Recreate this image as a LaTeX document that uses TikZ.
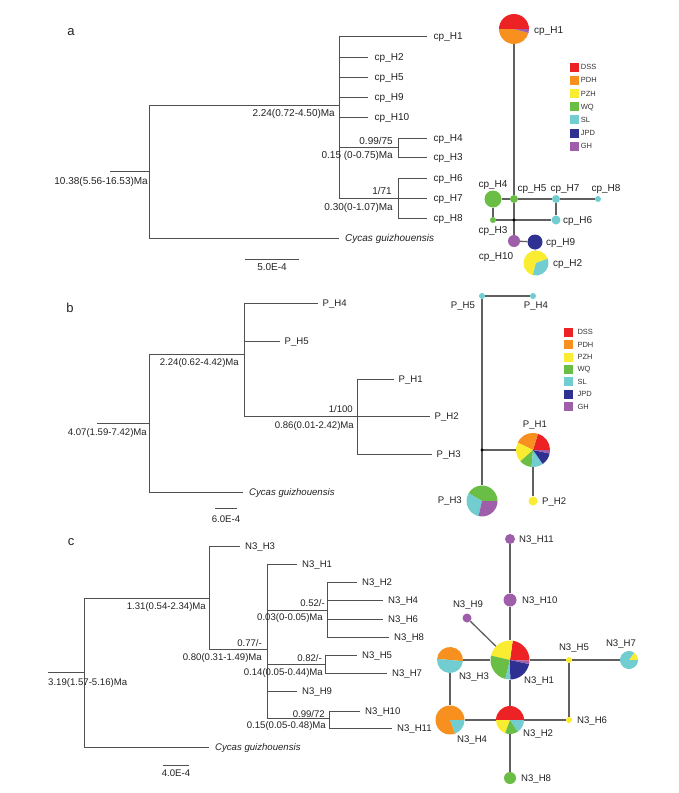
\documentclass[tikz,border=0pt]{standalone}
\usepackage{fontspec}
\setmainfont{Liberation Sans}
\definecolor{dss}{HTML}{ED2224}
\definecolor{pdh}{HTML}{F7901E}
\definecolor{pzh}{HTML}{F9EC31}
\definecolor{wq}{HTML}{6ABD45}
\definecolor{sl}{HTML}{72CDD0}
\definecolor{jpd}{HTML}{2E3192}
\definecolor{gh}{HTML}{9E5EAA}
\definecolor{treeline}{HTML}{505050}
\definecolor{netline}{HTML}{606060}
\definecolor{txt}{HTML}{222222}
\newcommand\sizeA{\fontsize{10}{12}\selectfont}
\newcommand\sizeB{\fontsize{9.6}{11.5}\selectfont}
\newcommand\sizeL{\fontsize{7.5}{9}\selectfont}
\newcommand\sizeP{\fontsize{13}{15}\selectfont}
\newcommand\pieat[3]{\foreach \s/\e/\c in {#3}{\fill[\c] (#1) -- ++(\s:#2pt) arc[start angle=\s, end angle=\e, radius=#2pt] -- cycle;}}
\begin{document}
\begin{tikzpicture}[x=1pt,y=-1pt,
  br/.style={draw=treeline, line width=0.9pt},
  tx/.style={inner sep=0pt, text height=7pt, text depth=0pt, text=txt},
  leafA/.style={tx, anchor=west, inner xsep=6.5pt, font=\sizeA},
  leafB/.style={tx, anchor=west, inner xsep=4.5pt, font=\sizeB},
  leafC/.style={tx, anchor=west, inner xsep=5pt, font=\sizeB},
  na/.style={tx, font=\sizeA},
  nb/.style={tx, font=\sizeB},
  net/.style={draw=netline, line width=1.3pt},
  hap/.style={circle, inner sep=0pt, minimum size=#1},
  legsq/.style={inner sep=0pt, minimum size=9pt},
  legtx/.style={inner sep=0pt, anchor=west, font=\sizeL, text=black!80, text height=5pt, text depth=0pt},
  plab/.style={tx, font=\sizeP}]
\useasboundingbox (0,0) rectangle (678,793);

% ================= panel a : tree =================
\node[plab] (pa) at (71,32) {a};
\coordinate (a0) at (110,171);
\coordinate (a1) at (149,171);
\coordinate (a2) at (339,105);
\coordinate (a3) at (398,147);
\coordinate (a4) at (398,198);
\node[leafA] (aH1) at (427,36) {cp\_H1};
\node[leafA] (aH2) at (368,57) {cp\_H2};
\node[leafA] (aH5) at (368,77) {cp\_H5};
\node[leafA] (aH9) at (368,97) {cp\_H9};
\node[leafA] (aH10) at (368,117) {cp\_H10};
\node[leafA] (aH4) at (427,138) {cp\_H4};
\node[leafA] (aH3) at (427,157) {cp\_H3};
\node[leafA] (aH6) at (427,178) {cp\_H6};
\node[leafA] (aH7) at (427,198) {cp\_H7};
\node[leafA] (aH8) at (427,218) {cp\_H8};
\node[leafA, inner xsep=6pt] (aOG) at (339,238) {\itshape Cycas guizhouensis};
\draw[br] (a0) -- (a1);
\draw[br] (a2) -- (a2 -| a1) -- (a1 |- aOG.west) -- (aOG.west);
\draw[br] (a2 |- aH1.west) -- (a2 |- a4);
\foreach \n in {aH1,aH2,aH5,aH9,aH10} \draw[br] (a2 |- \n.west) -- (\n.west);
\draw[br] (a2 |- a3) -- (a3);
\draw[br] (a3 |- aH4.west) -- (a3 |- aH3.west);
\foreach \n in {aH4,aH3} \draw[br] (a3 |- \n.west) -- (\n.west);
\draw[br] (a2 |- a4) -- (a4);
\draw[br] (a4 |- aH6.west) -- (a4 |- aH8.west);
\foreach \n in {aH6,aH7,aH8} \draw[br] (a4 |- \n.west) -- (\n.west);
\node[na, anchor=east] (aL1) at (148,181) {10.38(5.56-16.53)Ma};
\node[na, anchor=east] (aL2) at (335,113) {2.24(0.72-4.50)Ma};
\node[na, anchor=east] (aL3) at (393,141) {0.99/75};
\node[na, anchor=east] (aL4) at (393,155) {0.15 (0-0.75)Ma};
\node[na, anchor=east] (aL5) at (392,191) {1/71};
\node[na, anchor=east] (aL6) at (393,207) {0.30(0-1.07)Ma};
\coordinate (asb1) at (245,259); \coordinate (asb2) at (299,259);
\draw[br] (asb1) -- (asb2);
\node[na] (aSB) at (272,267) {5.0E-4};

% ================= panel a : network =================
\node[hap=30pt] (cpH1) at (514,29) {};
\node[hap=8pt, fill=wq] (cpH5) at (514,199) {};
\node[hap=17pt, fill=wq] (cpH4) at (493,199) {};
\node[hap=8pt, fill=sl] (cpH7) at (556,199) {};
\node[hap=6pt, fill=sl] (cpH8) at (598,199) {};
\node[hap=9pt, fill=sl] (cpH6) at (556,220) {};
\node[hap=6pt, fill=wq] (cpH3) at (493,220) {};
\coordinate (ja) at (514,220);
\node[hap=12pt, fill=gh] (cpH10) at (514,241) {};
\node[hap=15pt, fill=jpd] (cpH9) at (535,242) {};
\node[hap=25pt] (cpH2) at (536,263) {};
\draw[net] (cpH1) -- (cpH5) -- (ja) -- (cpH10);
\draw[net] (cpH4) -- (cpH5) -- (cpH7) -- (cpH8);
\draw[net] (cpH7) -- (cpH6);
\draw[net] (cpH4) -- (cpH3);
\draw[net] (cpH3) -- (ja) -- (cpH6);
\draw[net] (cpH10) -- (cpH9);
\draw[net] (cpH9) -- (cpH2);
\fill (ja) circle[radius=1.6pt];
\pieat{cpH1.center}{15}{0/180/dss,180/345/pdh,345/360/gh}
\pieat{cpH2.center}{12.5}{20/255/pzh,255/380/sl}
\node[na, anchor=west] (cpL1) at (534,30) {cp\_H1};
\node[na] (cpL4) at (493,184) {cp\_H4};
\node[na] (cpL5) at (532,188) {cp\_H5};
\node[na] (cpL7) at (565,188) {cp\_H7};
\node[na] (cpL8) at (606,188) {cp\_H8};
\node[na, anchor=west] (cpL6) at (563,220) {cp\_H6};
\node[na] (cpL3) at (493,230) {cp\_H3};
\node[na] (cpL10) at (496,256) {cp\_H10};
\node[na, anchor=west] (cpL9) at (546,242) {cp\_H9};
\node[na, anchor=west] (cpL2) at (553,263) {cp\_H2};
\foreach \c/\t [count=\i from 0] in {dss/DSS,pdh/PDH,pzh/PZH,wq/WQ,sl/SL,jpd/JPD,gh/GH}{
  \node[legsq, fill=\c] (lgA\i) at (574,{67.2+13.17*\i}) {};
  \node[legtx] (lgAt\i) at (580.7,{67.2+13.17*\i}) {\t};}

% ================= panel b : tree =================
\node[plab] (pb) at (70,309) {b};
\coordinate (b0) at (97,423); \coordinate (b1) at (149,423);
\coordinate (b2) at (244,354); \coordinate (b3) at (357,416);
\node[leafB] (bH4) at (318,303) {P\_H4};
\node[leafB] (bH5) at (280,341) {P\_H5};
\node[leafB] (bH1) at (394,379) {P\_H1};
\node[leafB] (bH2) at (430,416) {P\_H2};
\node[leafB] (bH3) at (432,454) {P\_H3};
\node[leafB, inner xsep=6pt] (bOG) at (243,492) {\itshape Cycas guizhouensis};
\draw[br] (b0) -- (b1);
\draw[br] (b2) -- (b2 -| b1) -- (b1 |- bOG.west) -- (bOG.west);
\draw[br] (b2 |- bH4.west) -- (b2 |- b3);
\foreach \n in {bH4,bH5} \draw[br] (b2 |- \n.west) -- (\n.west);
\draw[br] (b2 |- b3) -- (b3);
\draw[br] (b3 |- bH1.west) -- (b3 |- bH3.west);
\foreach \n in {bH1,bH2,bH3} \draw[br] (b3 |- \n.west) -- (\n.west);
\node[nb, anchor=east] (bL1) at (147,432) {4.07(1.59-7.42)Ma};
\node[nb, anchor=east] (bL2) at (239,362) {2.24(0.62-4.42)Ma};
\node[nb, anchor=east] (bL3) at (353,409) {1/100};
\node[nb, anchor=east] (bL4) at (354,425) {0.86(0.01-2.42)Ma};
\coordinate (bsb1) at (215,508); \coordinate (bsb2) at (237,508);
\draw[br] (bsb1) -- (bsb2);
\node[nb] (bSB) at (226,519) {6.0E-4};

% ================= panel b : network =================
\node[hap=6pt, fill=sl] (pH5) at (482,296) {};
\node[hap=6pt, fill=sl] (pH4) at (533,296) {};
\node[hap=31pt] (pH3) at (482,501) {};
\coordinate (jb) at (482,450);
\node[hap=34pt] (pH1) at (533,450) {};
\node[hap=9pt, fill=pzh] (pH2) at (533,501) {};
\draw[net] (pH5) -- (pH4);
\draw[net] (pH5) -- (jb) -- (pH3);
\draw[net] (jb) -- (pH1);
\draw[net] (pH1) -- (pH2);
\fill (jb) circle[radius=1.6pt];
\pieat{pH1.center}{17}{0/73/dss,73/154/pdh,154/222/pzh,222/265/wq,265/305/sl,305/348/jpd,348/360/gh}
\pieat{pH3.center}{15.5}{0/150/wq,150/257/sl,257/360/gh}
\node[nb] (pL5) at (463,305) {P\_H5};
\node[nb] (pL4) at (536,305) {P\_H4};
\node[nb] (pL1) at (535,424) {P\_H1};
\node[nb, anchor=west] (pL2) at (542,501) {P\_H2};
\node[nb, anchor=east] (pL3) at (462,500) {P\_H3};
\foreach \c/\t [count=\i from 0] in {dss/DSS,pdh/PDH,pzh/PZH,wq/WQ,sl/SL,jpd/JPD,gh/GH}{
  \node[legsq, fill=\c] (lgB\i) at (568,{332.2+12.42*\i}) {};
  \node[legtx] (lgBt\i) at (577.3,{332.2+12.42*\i}) {\t};}

% ================= panel c : tree =================
\node[plab] (pc) at (71,542) {c};
\coordinate (c0) at (48,672); \coordinate (c1) at (84,672);
\coordinate (c2) at (209,598);
\coordinate (c3) at (267,649);
\coordinate (c4) at (327,610);
\coordinate (c5) at (325,664);
\coordinate (c6) at (329,718);
\node[leafC] (cH3) at (240,546) {N3\_H3};
\node[leafC] (cH1) at (297,564) {N3\_H1};
\node[leafC] (cH2) at (357,582) {N3\_H2};
\node[leafC] (cH4) at (383,600) {N3\_H4};
\node[leafC] (cH6) at (383,619) {N3\_H6};
\node[leafC] (cH8) at (389,637) {N3\_H8};
\node[leafC] (cH5) at (357,655) {N3\_H5};
\node[leafC] (cH7) at (387,673) {N3\_H7};
\node[leafC] (cH9) at (297,691) {N3\_H9};
\node[leafC] (cH10) at (360,711) {N3\_H10};
\node[leafC] (cH11) at (392,728) {N3\_H11};
\node[leafC, inner xsep=6pt] (cOG) at (209,747) {\itshape Cycas guizhouensis};
\draw[br] (c0) -- (c1);
\draw[br] (c2) -- (c2 -| c1) -- (c1 |- cOG.west) -- (cOG.west);
\draw[br] (c2 |- cH3.west) -- (c2 |- c3);
\draw[br] (c2 |- cH3.west) -- (cH3.west);
\draw[br] (c2 |- c3) -- (c3);
\draw[br] (c3 |- cH1.west) -- (c3 |- c6);
\foreach \n in {cH1,cH9} \draw[br] (c3 |- \n.west) -- (\n.west);
\draw[br] (c3 |- c4) -- (c4);
\draw[br] (c4 |- cH2.west) -- (c4 |- cH8.west);
\foreach \n in {cH2,cH4,cH6,cH8} \draw[br] (c4 |- \n.west) -- (\n.west);
\draw[br] (c3 |- c5) -- (c5);
\draw[br] (c5 |- cH5.west) -- (c5 |- cH7.west);
\foreach \n in {cH5,cH7} \draw[br] (c5 |- \n.west) -- (\n.west);
\draw[br] (c3 |- c6) -- (c6);
\draw[br] (c6 |- cH10.west) -- (c6 |- cH11.west);
\foreach \n in {cH10,cH11} \draw[br] (c6 |- \n.west) -- (\n.west);
\node[nb, anchor=west] (cL1) at (48,682) {3.19(1.57-5.16)Ma};
\node[nb, anchor=east] (cL2) at (206,606) {1.31(0.54-2.34)Ma};
\node[nb, anchor=east] (cL3) at (262,643) {0.77/-};
\node[nb, anchor=east] (cL4) at (262,657) {0.80(0.31-1.49)Ma};
\node[nb, anchor=east] (cL5) at (325,603) {0.52/-};
\node[nb, anchor=east] (cL6) at (323,617) {0.03(0-0.05)Ma};
\node[nb, anchor=east] (cL7) at (322,658) {0.82/-};
\node[nb, anchor=east] (cL8) at (323,672) {0.14(0.05-0.44)Ma};
\node[nb, anchor=east] (cL9) at (325,714) {0.99/72};
\node[nb, anchor=east] (cL10) at (326,725) {0.15(0.05-0.48)Ma};
\coordinate (csb1) at (163,765); \coordinate (csb2) at (189,765);
\draw[br] (csb1) -- (csb2);
\node[nb] (cSB) at (176,773) {4.0E-4};

% ================= panel c : network =================
\node[hap=10pt, fill=gh] (nH11) at (510,539) {};
\node[hap=13pt, fill=gh] (nH10) at (510,600) {};
\node[hap=39pt] (nH1) at (510,660) {};
\node[hap=9pt, fill=gh] (nH9) at (467,618) {};
\node[hap=26pt] (nH3) at (450,660) {};
\node[hap=29pt] (nH4) at (450,720) {};
\node[hap=28pt] (nH2) at (510,720) {};
\node[hap=12pt, fill=wq] (nH8) at (510,778) {};
\node[hap=6pt, fill=pzh] (nH5) at (569,660) {};
\node[hap=6pt, fill=pzh] (nH6) at (569,720) {};
\node[hap=18pt] (nH7) at (629,660) {};
\draw[net] (nH11) -- (nH10) -- (nH1) -- (nH2) -- (nH8);
\draw[net] (nH3) -- (nH1) -- (nH5) -- (nH7);
\draw[net] (nH3) -- (nH4) -- (nH2) -- (nH6);
\draw[net] (nH5) -- (nH6);
\draw[net] (nH9) -- (nH1);
\pieat{nH1.center}{19.5}{-2/82/dss,82/167/pzh,167/256/wq,256/271/sl,271/348/jpd,348/358/gh}
\pieat{nH3.center}{13}{-5/175/pdh,175/355/sl}
\pieat{nH4.center}{14.5}{0/291/pdh,291/360/sl}
\pieat{nH2.center}{14}{0/180/dss,180/250/pzh,250/304/wq,304/360/sl}
\pieat{nH7.center}{9}{0/55/pzh,55/360/sl}
\node[nb, anchor=west] (nL11) at (519,539) {N3\_H11};
\node[nb, anchor=west] (nL10) at (522,600) {N3\_H10};
\node[nb] (nL9) at (468,604) {N3\_H9};
\node[nb] (nL5) at (574,647) {N3\_H5};
\node[nb] (nL7) at (621,643) {N3\_H7};
\node[nb] (nL3) at (474,676) {N3\_H3};
\node[nb, anchor=west] (nL1) at (524,680) {N3\_H1};
\node[nb, anchor=west] (nL6) at (577,720) {N3\_H6};
\node[nb, anchor=west] (nL2) at (523,733) {N3\_H2};
\node[nb, anchor=west] (nL4) at (457,739) {N3\_H4};
\node[nb, anchor=west] (nL8) at (521,778) {N3\_H8};
\end{tikzpicture}
\end{document}
